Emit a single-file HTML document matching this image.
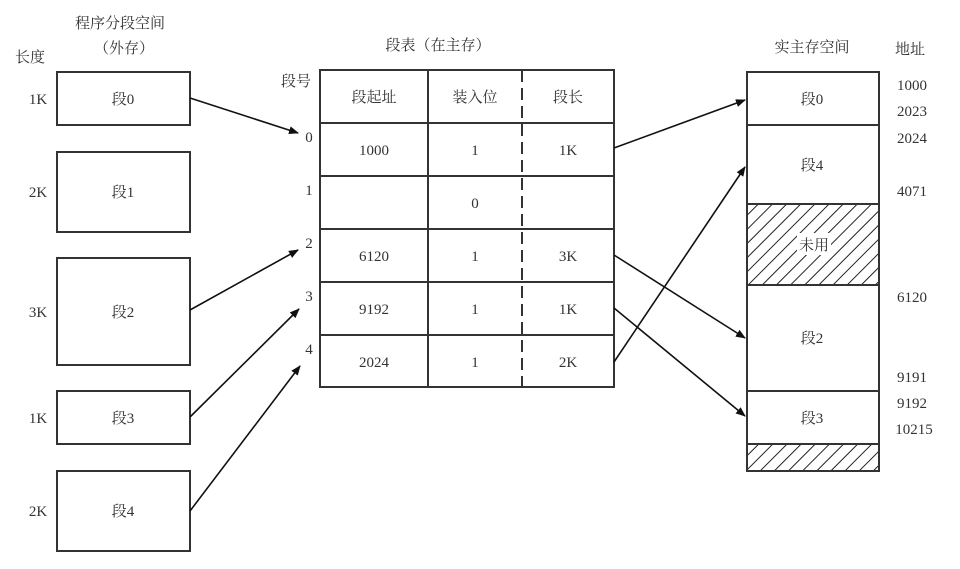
<!DOCTYPE html>
<html><head><meta charset="utf-8"><style>
body{margin:0;background:#fff;}
svg text{font-family:"Liberation Serif","Noto Serif CJK SC",serif;font-size:15px;fill:#333;}
</style></head><body>
<svg width="960" height="564" xmlns="http://www.w3.org/2000/svg">
<defs>
<marker id="a" markerWidth="10" markerHeight="8" refX="9" refY="4" orient="auto" markerUnits="userSpaceOnUse"><path d="M0,0 L10,4 L0,8 z" fill="#111"/></marker>
<pattern id="h" width="10" height="10" patternUnits="userSpaceOnUse" patternTransform="rotate(45)"><rect width="10" height="10" fill="#fff"/><line x1="0" y1="0" x2="0" y2="10" stroke="#222" stroke-width="2"/></pattern>
</defs>
<g stroke="#333" stroke-width="2" fill="none">
<rect x="57" y="72" width="133" height="53"/>
<rect x="57" y="152" width="133" height="80"/>
<rect x="57" y="258" width="133" height="107"/>
<rect x="57" y="391" width="133" height="53"/>
<rect x="57" y="471" width="133" height="80"/>
<rect x="320" y="70" width="294" height="317"/>
<line x1="428" y1="70" x2="428" y2="387"/>
<line x1="522" y1="70" x2="522" y2="387" stroke-dasharray="12,6"/>
<line x1="320" y1="123" x2="614" y2="123"/>
<line x1="320" y1="176" x2="614" y2="176"/>
<line x1="320" y1="229" x2="614" y2="229"/>
<line x1="320" y1="282" x2="614" y2="282"/>
<line x1="320" y1="335" x2="614" y2="335"/>
<rect x="747" y="204" width="132" height="81" fill="url(#h)"/>
<rect x="747" y="444" width="132" height="27" fill="url(#h)"/>
<rect x="747" y="72" width="132" height="399"/>
<line x1="747" y1="125" x2="879" y2="125"/>
<line x1="747" y1="391" x2="879" y2="391"/>
</g>
<rect x="797" y="233" width="34" height="22" fill="#fff"/>
<g stroke="#111" stroke-width="1.6" marker-end="url(#a)">
<line x1="190" y1="98" x2="298" y2="133"/>
<line x1="190" y1="310" x2="298" y2="250"/>
<line x1="190" y1="417" x2="299" y2="309"/>
<line x1="190" y1="511" x2="300" y2="366"/>
<line x1="614" y1="148" x2="745" y2="100"/>
<line x1="614" y1="255" x2="745" y2="338"/>
<line x1="614" y1="308" x2="745" y2="416"/>
<line x1="614" y1="362" x2="745" y2="167"/>
</g>
<g text-anchor="middle">
<text x="120" y="28">程序分段空间</text>
<text x="124" y="53">（外存）</text>
<text x="30" y="62">长度</text>
<text x="123" y="104">段0</text>
<text x="123" y="197">段1</text>
<text x="123" y="317">段2</text>
<text x="123" y="423">段3</text>
<text x="123" y="516">段4</text>
<text x="38" y="104">1K</text>
<text x="38" y="197">2K</text>
<text x="38" y="317">3K</text>
<text x="38" y="423">1K</text>
<text x="38" y="516">2K</text>
<text x="438" y="50">段表（在主存）</text>
<text x="296" y="86">段号</text>
<text x="309" y="142">0</text>
<text x="309" y="195">1</text>
<text x="309" y="248">2</text>
<text x="309" y="301">3</text>
<text x="309" y="354">4</text>
<text x="374" y="102">段起址</text>
<text x="475" y="102">装入位</text>
<text x="568" y="102">段长</text>
<text x="374" y="155">1000</text><text x="475" y="155">1</text><text x="568" y="155">1K</text>
<text x="475" y="208">0</text>
<text x="374" y="261">6120</text><text x="475" y="261">1</text><text x="568" y="261">3K</text>
<text x="374" y="314">9192</text><text x="475" y="314">1</text><text x="568" y="314">1K</text>
<text x="374" y="367">2024</text><text x="475" y="367">1</text><text x="568" y="367">2K</text>
<text x="812" y="52">实主存空间</text>
<text x="910" y="54">地址</text>
<text x="812" y="104">段0</text>
<text x="812" y="170">段4</text>
<text x="814" y="250">未用</text>
<text x="812" y="343">段2</text>
<text x="812" y="423">段3</text>
<text x="912" y="90">1000</text>
<text x="912" y="116">2023</text>
<text x="912" y="143">2024</text>
<text x="912" y="196">4071</text>
<text x="912" y="302">6120</text>
<text x="912" y="382">9191</text>
<text x="912" y="408">9192</text>
<text x="914" y="434">10215</text>
</g>
</svg>
</body></html>
